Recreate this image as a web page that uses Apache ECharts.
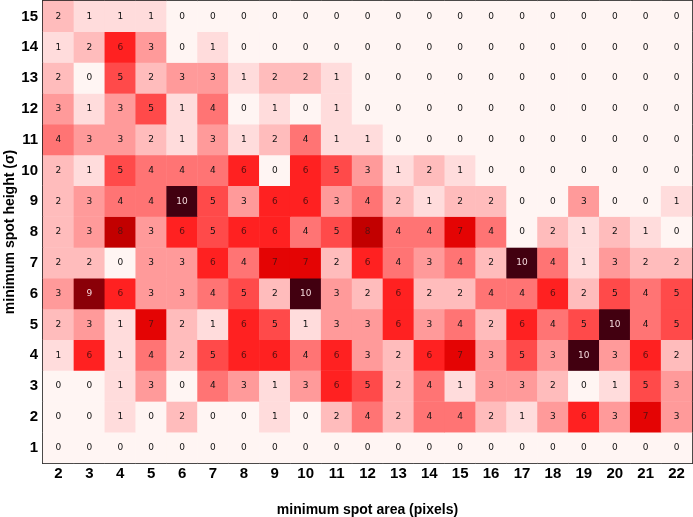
<!DOCTYPE html>
<html>
<head>
<meta charset="utf-8">
<script src="https://cdn.jsdelivr.net/npm/echarts@6/dist/echarts.min.js"></script>
<style>
  html, body { margin: 0; padding: 0; background: #fff; }
  #chart { width: 693px; height: 517px; }
</style>
</head>
<body>
<div id="chart"></div>
<script>
  // spot area categories (x) and spot height categories (y)
  const areas = ['2','3','4','5','6','7','8','9','10','11','12','13','14','15','16','17','18','19','20','21','22'];
  const heights = ['1','2','3','4','5','6','7','8','9','10','11','12','13','14','15'];

  // one row per height, from 1 up to 15, columns follow areas
  const row1  = [0,0,0,0,0,0,0,0,0,0,0,0,0,0,0,0,0,0,0,0,0];
  const row2  = [0,0,1,0,2,0,0,1,0,2,4,2,4,4,2,1,3,6,3,7,3];
  const row3  = [0,0,1,3,0,4,3,1,3,6,5,2,4,1,3,3,2,0,1,5,3];
  const row4  = [1,6,1,4,2,5,6,6,4,6,3,2,6,7,3,5,3,10,3,6,2];
  const row5  = [2,3,1,7,2,1,6,5,1,3,3,6,3,4,2,6,4,5,10,4,5];
  const row6  = [3,9,6,3,3,4,5,2,10,3,2,6,2,2,4,4,6,2,5,4,5];
  const row7  = [2,2,0,3,3,6,4,7,7,2,6,4,3,4,2,10,4,1,3,2,2];
  const row8  = [2,3,8,3,6,5,6,6,4,5,8,4,4,7,4,0,2,1,2,1,0];
  const row9  = [2,3,4,4,10,5,3,6,6,3,4,2,1,2,2,0,0,3,0,0,1];
  const row10 = [2,1,5,4,4,4,6,0,6,5,3,1,2,1,0,0,0,0,0,0,0];
  const row11 = [4,3,3,2,1,3,1,2,4,1,1,0,0,0,0,0,0,0,0,0,0];
  const row12 = [3,1,3,5,1,4,0,1,0,1,0,0,0,0,0,0,0,0,0,0,0];
  const row13 = [2,0,5,2,3,3,1,2,2,1,0,0,0,0,0,0,0,0,0,0,0];
  const row14 = [1,2,6,3,0,1,0,0,0,0,0,0,0,0,0,0,0,0,0,0,0];
  const row15 = [2,1,1,1,0,0,0,0,0,0,0,0,0,0,0,0,0,0,0,0,0];
  const rows = [row1,row2,row3,row4,row5,row6,row7,row8,row9,row10,row11,row12,row13,row14,row15];

  const cells = [];
  rows.forEach((row, y) => {
    row.forEach((v, x) => {
      const item = { value: [x, y, v] };
      if (v >= 9) item.label = { color: '#f4d8dc' };
      else if (v >= 6) item.label = { color: '#5a1010' };
      cells.push(item);
    });
  });

  const tickFont = { fontFamily: 'Liberation Sans, Arial, sans-serif', fontWeight: 'bold', fontSize: 15, color: '#000' };
  const nameFont = { fontFamily: 'Liberation Sans, Arial, sans-serif', fontWeight: 'bold', fontSize: 14, color: '#000' };
  const inTick = { show: true, inside: true, alignWithLabel: true, length: 4, lineStyle: { color: '#000' } };
  const blackLine = { show: true, lineStyle: { color: '#000', width: 1.5 } };

  const chart = echarts.init(document.getElementById('chart'));
  chart.setOption({
    animation: false,
    grid: {
      left: 43, right: 1, top: 1, bottom: 54,
      outerBoundsMode: 'none',
      containLabel: false,
      show: true, borderColor: '#000', borderWidth: 1.5, backgroundColor: 'transparent'
    },
    xAxis: [
      {
        type: 'category',
        data: areas,
        position: 'bottom',
        axisLine: blackLine,
        axisTick: inTick,
        axisLabel: Object.assign({ margin: 3 }, tickFont),
        splitLine: { show: false },
        name: 'minimum spot area (pixels)',
        nameLocation: 'middle',
        nameGap: 40,
        nameMoveOverlap: false,
        nameTextStyle: nameFont
      },
      {
        type: 'category',
        data: areas,
        position: 'top',
        axisLine: blackLine,
        axisTick: inTick,
        axisLabel: { show: false }
      }
    ],
    yAxis: [
      {
        type: 'category',
        data: heights,
        position: 'left',
        axisLine: blackLine,
        axisTick: inTick,
        axisLabel: Object.assign({ margin: 5 }, tickFont),
        splitLine: { show: false },
        name: 'minimum spot height (σ)',
        nameLocation: 'middle',
        nameGap: 26,
        nameRotate: 90,
        nameMoveOverlap: false,
        nameTextStyle: nameFont
      },
      {
        type: 'category',
        data: heights,
        position: 'right',
        axisLine: blackLine,
        axisTick: inTick,
        axisLabel: { show: false }
      }
    ],
    visualMap: {
      show: false,
      type: 'continuous',
      min: 0,
      max: 10,
      dimension: 2,
      seriesIndex: 0,
      inRange: {
        color: ['#fff5f3', '#ffdcdc', '#ffbcbc', '#ff9a9a', '#ff7474', '#ff4a4a', '#ff2121', '#e40404', '#c20000', '#8a0008', '#420010']
      }
    },
    series: [
      {
        type: 'heatmap',
        xAxisIndex: 0,
        yAxisIndex: 0,
        data: cells,
        label: {
          show: true,
          fontFamily: 'DejaVu Sans, sans-serif',
          fontSize: 9,
          color: '#111',
          formatter: p => p.value[2]
        },
        itemStyle: { borderWidth: 0 },
        emphasis: { disabled: true }
      }
    ]
  });
</script>
</body>
</html>
